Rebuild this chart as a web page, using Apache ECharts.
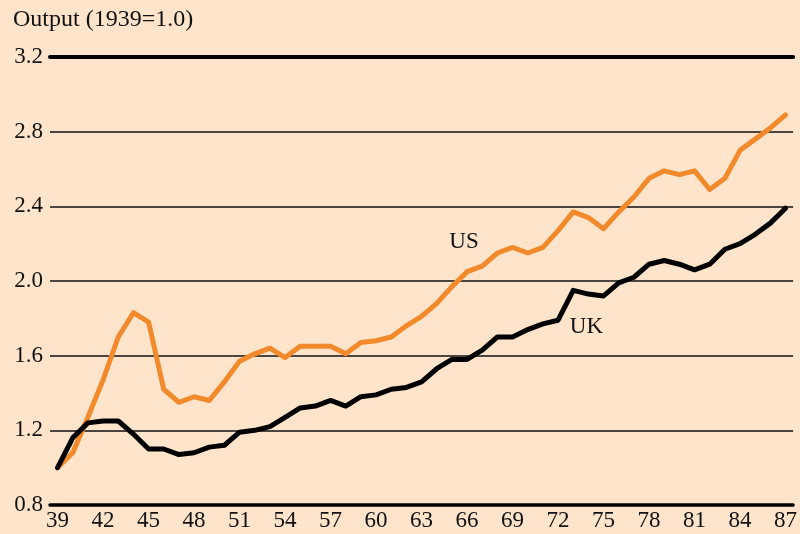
<!DOCTYPE html>
<html>
<head>
<meta charset="utf-8">
<script src="https://cdn.jsdelivr.net/npm/echarts@6/dist/echarts.min.js"></script>
<style>
  html, body { margin: 0; padding: 0; background: #fde4ca; }
  #chart { width: 800px; height: 534px; }
</style>
</head>
<body>
<div id="chart"></div>
<script>
  // years 1939..1987, shown as two digits
  var years = [];
  for (var y = 39; y <= 87; y++) years.push(String(y));

  var usOutput = [
    1.00, 1.08, 1.27, 1.47, 1.70, 1.83, 1.78, 1.42, 1.35, 1.38,
    1.36, 1.46, 1.57, 1.61, 1.64, 1.59, 1.65, 1.65, 1.65, 1.61,
    1.67, 1.68, 1.70, 1.76, 1.81, 1.88, 1.97, 2.05, 2.08, 2.15,
    2.18, 2.15, 2.18, 2.27, 2.37, 2.34, 2.28, 2.37, 2.45, 2.55,
    2.59, 2.57, 2.59, 2.49, 2.55, 2.70, 2.76, 2.82, 2.89
  ];
  var ukOutput = [
    1.00, 1.16, 1.24, 1.25, 1.25, 1.18, 1.10, 1.10, 1.07, 1.08,
    1.11, 1.12, 1.19, 1.20, 1.22, 1.27, 1.32, 1.33, 1.36, 1.33,
    1.38, 1.39, 1.42, 1.43, 1.46, 1.53, 1.58, 1.58, 1.63, 1.70,
    1.70, 1.74, 1.77, 1.79, 1.95, 1.93, 1.92, 1.99, 2.02, 2.09,
    2.11, 2.09, 2.06, 2.09, 2.17, 2.20, 2.25, 2.31, 2.39
  ];

  var font = "'Liberation Serif', 'DejaVu Serif', serif";
  var chart = echarts.init(document.getElementById('chart'));

  chart.setOption({
    backgroundColor: '#fde4ca',
    animation: false,
    title: {
      text: 'Output (1939=1.0)',
      left: 8,
      top: 3,
      textStyle: { fontFamily: font, fontSize: 24, fontWeight: 'normal', color: '#111' }
    },
    grid: { left: 50, right: 2, top: 57, bottom: 29 },
    xAxis: [{
      type: 'category',
      data: years,
      boundaryGap: true,
      axisLine: { lineStyle: { color: '#000', width: 3.5 } },
      axisTick: { inside: true, length: 9, interval: 0, lineStyle: { color: '#000', width: 1.5 } },
      axisLabel: { interval: 2, margin: 4, color: '#111', fontFamily: font, fontSize: 23 },
      splitLine: { show: false }
    }, {
      // thick rule along the top (3.2)
      type: 'category',
      data: years,
      position: 'top',
      axisLine: { lineStyle: { color: '#000', width: 4 } },
      axisTick: { show: false },
      axisLabel: { show: false }
    }],
    yAxis: {
      type: 'value',
      min: 0.8,
      max: 3.2,
      interval: 0.4,
      axisLine: { show: false },
      axisTick: { show: false },
      axisLabel: {
        margin: 7,
        color: '#111',
        fontFamily: font,
        fontSize: 23,
        formatter: function (v) { return v.toFixed(1); }
      },
      splitLine: { lineStyle: { color: '#111', width: 1.5 } }
    },
    series: [{
      name: 'US',
      type: 'line',
      data: usOutput,
      symbol: 'none',
      lineStyle: { color: '#f28a2c', width: 5, join: 'round', cap: 'round' },
      markPoint: {
        symbol: 'circle',
        symbolSize: 0,
        label: { show: true, position: 'inside', offset: [-3, 0], formatter: 'US', color: '#111', fontFamily: font, fontSize: 23 },
        data: [{ coord: ['66', 2.21] }]
      }
    }, {
      name: 'UK',
      type: 'line',
      data: ukOutput,
      symbol: 'none',
      lineStyle: { color: '#000', width: 5, join: 'round', cap: 'round' },
      markPoint: {
        symbol: 'circle',
        symbolSize: 0,
        label: { show: true, position: 'inside', offset: [-2, 0], formatter: 'UK', color: '#111', fontFamily: font, fontSize: 23 },
        data: [{ coord: ['74', 1.755] }]
      }
    }]
  });
</script>
</body>
</html>
